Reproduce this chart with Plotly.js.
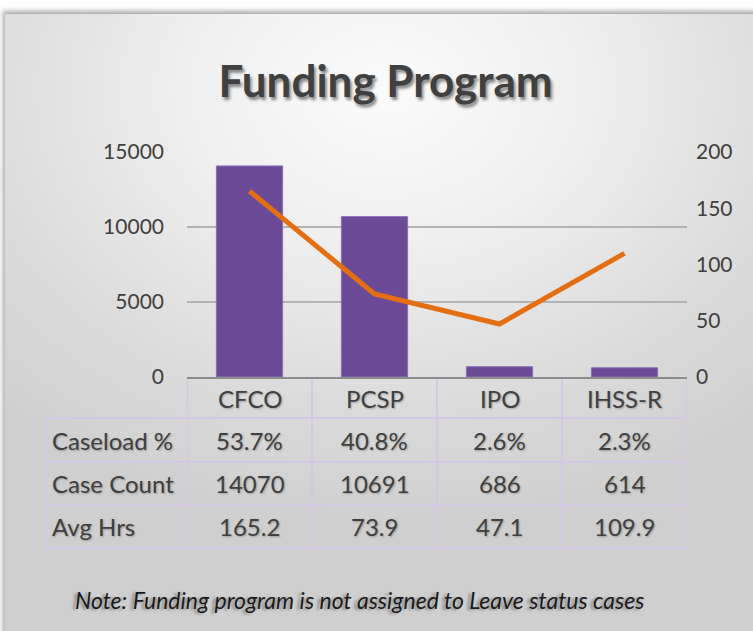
<!DOCTYPE html>
<html>
<head>
<meta charset="utf-8">
<script src="https://cdn.plot.ly/plotly-3.0.1.min.js"></script>
<style>
  html, body { margin: 0; padding: 0; background: #ffffff; }
  #wrap { position: relative; width: 753px; height: 631px; overflow: hidden; background: #fff; }
  #frame { position: absolute; left: 5px; top: 14px; width: 760px; height: 630px;
    background: radial-gradient(ellipse 75% 70% at 50% 12%, #fbfbfb 0%, #efefef 35%, #dcdcdc 70%, #cfcfcf 100%);
    box-shadow: -2px -3px 5px rgba(0,0,0,0.35); }
  #chart { position: absolute; left: 0; top: 0; width: 753px; height: 631px; }
</style>
</head>
<body>
<div id="wrap">
  <div id="frame"></div>
  <div id="chart"></div>
</div>
<script>
// ---- data ----
const categories = ["CFCO", "PCSP", "IPO", "IHSS-R"];
const caseCount = [14070, 10691, 686, 614];
const avgHrs = [165.2, 73.9, 47.1, 109.9];
const caseloadPct = ["53.7%", "40.8%", "2.6%", "2.3%"];
const rowLabels = ["Caseload %", "Case Count", "Avg Hrs"];
const leftTicks = [0, 5000, 10000, 15000];
const rightTicks = [0, 50, 100, 150, 200];
const titleText = "Funding Program";
const noteText = "Note: Funding program is not assigned to Leave status cases";

const FONT = "Lato, 'Open Sans', sans-serif";
const TXT = "#404040";
const BORDER = "#d3c9e6";
const shadowSoft = "1px 1px 2px rgba(0,0,0,0.25)";
const TABLE_SIZE = 24;

const xIdx = categories.map((_, i) => i);

const traces = [
  {
    type: "bar",
    x: xIdx,
    y: caseCount,
    marker: { color: "#6b4a97", line: { color: "#8b70b6", width: 1 } },
    hoverinfo: "skip",
    yaxis: "y"
  },
  {
    type: "scatter",
    mode: "lines",
    x: xIdx,
    y: avgHrs,
    line: { color: "#e36f12", width: 5 },
    hoverinfo: "skip",
    yaxis: "y2"
  }
];

// table geometry (paper coordinates relative to plot area)
const plotH = 225;
const py = px => (377 - px) / plotH;       // pixel y -> paper y
const headerY = py(398);
const rowYs = [py(440), py(483), py(526)];
const rowLines = [py(418), py(462), py(505), py(548)];
const tableTop = py(378);
const labelLeft = (47 - 187) / 500;

const rows = [caseloadPct, caseCount.map(String), avgHrs.map(v => v.toFixed(1))];

const annotations = [];
categories.forEach((c, i) => {
  annotations.push({ x: i, y: headerY, xref: "x", yref: "paper", text: c, showarrow: false,
    font: { family: FONT, size: TABLE_SIZE, color: TXT, shadow: shadowSoft }, xanchor: "center", yanchor: "middle" });
});
rows.forEach((r, ri) => {
  annotations.push({ x: labelLeft + 0.006, y: rowYs[ri], xref: "paper", yref: "paper", text: rowLabels[ri], showarrow: false,
    font: { family: FONT, size: TABLE_SIZE, color: TXT, shadow: shadowSoft }, xanchor: "left", yanchor: "middle" });
  r.forEach((v, i) => {
    annotations.push({ x: i, y: rowYs[ri], xref: "x", yref: "paper", text: v, showarrow: false,
      font: { family: FONT, size: TABLE_SIZE, color: TXT, shadow: shadowSoft }, xanchor: "center", yanchor: "middle" });
  });
});
annotations.push({ x: (360 - 187) / 500, y: py(600), xref: "paper", yref: "paper", text: "<i>" + noteText + "</i>",
  showarrow: false, font: { family: FONT, size: 23, color: "#1a1a1a", shadow: "-3px 1px 3px rgba(0,0,0,0.35)" },
  xanchor: "center", yanchor: "middle" });

const shapes = [];
const boundaries = [-0.5, 0.5, 1.5, 2.5, 3.5];
boundaries.forEach(b => {
  shapes.push({ type: "line", xref: "x", yref: "paper", x0: b, x1: b, y0: tableTop, y1: rowLines[3],
    line: { color: BORDER, width: 2 }, layer: "below" });
});
shapes.push({ type: "line", xref: "paper", yref: "paper", x0: labelLeft, x1: labelLeft, y0: rowLines[0], y1: rowLines[3],
  line: { color: BORDER, width: 2 }, layer: "below" });
rowLines.forEach(yv => {
  shapes.push({ type: "line", xref: "paper", yref: "paper", x0: labelLeft, x1: 1, y0: yv, y1: yv,
    line: { color: BORDER, width: 2 }, layer: "below" });
});

const layout = {
  width: 753,
  height: 631,
  paper_bgcolor: "rgba(0,0,0,0)",
  plot_bgcolor: "rgba(0,0,0,0)",
  margin: { l: 187, r: 66, t: 152, b: 254, pad: 0 },
  showlegend: false,
  bargap: 0.47,
  title: {
    text: "<b>" + titleText + "</b>",
    x: 0.512, xanchor: "center",
    y: 1 - 82 / 631, yanchor: "middle",
    font: { family: FONT, size: 44, color: TXT, shadow: "2px 3px 3px rgba(0,0,0,0.45)" }
  },
  xaxis: {
    range: [-0.5, 3.5],
    showticklabels: false,
    showgrid: false,
    zeroline: false,
    showline: true,
    linecolor: "#8c8c8c",
    linewidth: 2,
    ticks: "",
    fixedrange: true
  },
  yaxis: {
    range: [0, 15000],
    tickvals: leftTicks,
    ticktext: leftTicks.map(String),
    showgrid: true,
    gridcolor: "#b3b3b3",
    gridwidth: 1.5,
    zeroline: false,
    showline: false,
    ticks: "",
    ticklabelstandoff: 22,
    tickfont: { family: FONT, size: 21, color: TXT },
    fixedrange: true
  },
  yaxis2: {
    range: [0, 200],
    overlaying: "y",
    side: "right",
    tickvals: rightTicks,
    ticktext: rightTicks.map(String),
    showgrid: false,
    zeroline: false,
    showline: false,
    ticks: "",
    ticklabelstandoff: 8,
    tickfont: { family: FONT, size: 21, color: TXT },
    fixedrange: true
  },
  annotations: annotations,
  shapes: shapes
};

Plotly.newPlot("chart", traces, layout, { displayModeBar: false, staticPlot: true });
</script>
</body>
</html>
